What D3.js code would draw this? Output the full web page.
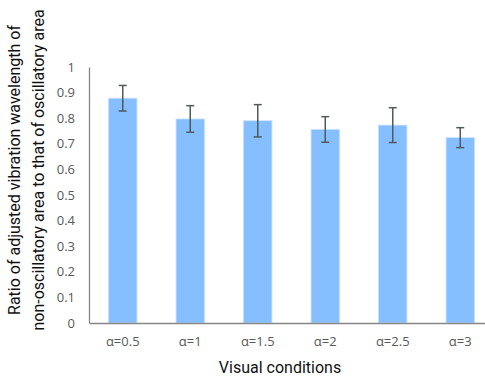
<!DOCTYPE html>
<html>
<head>
<meta charset="utf-8">
<script src="https://cdn.jsdelivr.net/npm/d3@7"></script>
<style>
body { margin: 0; background: #fff; }
</style>
</head>
<body>
<svg width="485" height="385"></svg>
<script>
const conditions = ["α=0.5", "α=1", "α=1.5", "α=2", "α=2.5", "α=3"];
const ratios = [0.878, 0.797, 0.790, 0.756, 0.773, 0.724];
const errors = [0.050, 0.052, 0.063, 0.050, 0.068, 0.039];
const yTicks = [0, 0.1, 0.2, 0.3, 0.4, 0.5, 0.6, 0.7, 0.8, 0.9, 1];

const svg = d3.select("svg");

const x = d3.scaleBand().domain(conditions).range([89, 494]).paddingInner(0.58).paddingOuter(0.29);
const y = d3.scaleLinear().domain([0, 1]).range([323, 67]);

// axes
const yAxis = svg.append("g")
    .attr("transform", "translate(89,0)")
    .call(d3.axisLeft(y).tickValues(yTicks).tickSize(0).tickPadding(14).tickFormat(d => d3.format("")(d)));
yAxis.select(".domain").attr("stroke", "#868686").attr("stroke-width", 1.3);
yAxis.selectAll("text")
    .style("font-family", "'Open Sans', sans-serif")
    .style("font-size", "13px")
    .attr("fill", "#595959");

// bars
svg.selectAll(".bar")
    .data(conditions)
    .join("rect")
    .attr("class", "bar")
    .attr("x", d => x(d))
    .attr("width", x.bandwidth())
    .attr("y", (d, i) => y(ratios[i]))
    .attr("height", (d, i) => y(0) - y(ratios[i]))
    .attr("fill", "#86bfff")
    .attr("stroke", "#c5e0ff")
    .attr("stroke-width", 0.8);

const xAxis = svg.append("g")
    .attr("transform", "translate(0,323)")
    .call(d3.axisBottom(x).tickSize(0).tickPadding(14));
xAxis.select(".domain").attr("stroke", "#868686").attr("stroke-width", 1.3);
xAxis.selectAll("text")
    .style("font-family", "'Open Sans', sans-serif")
    .style("font-size", "13px")
    .attr("fill", "#595959");

// error bars
const eb = svg.selectAll(".err")
    .data(conditions)
    .join("g")
    .attr("class", "err")
    .attr("stroke", "#4f5a5a")
    .attr("stroke-width", 1.5);
eb.append("line")
    .attr("x1", d => x(d) + x.bandwidth() / 2)
    .attr("x2", d => x(d) + x.bandwidth() / 2)
    .attr("y1", (d, i) => y(ratios[i] + errors[i]))
    .attr("y2", (d, i) => y(ratios[i] - errors[i]));
eb.selectAll(".cap")
    .data((d, i) => [ratios[i] + errors[i], ratios[i] - errors[i]].map(v => ({ c: d, v: v })))
    .join("line")
    .attr("class", "cap")
    .attr("x1", d => x(d.c) + x.bandwidth() / 2 - 4)
    .attr("x2", d => x(d.c) + x.bandwidth() / 2 + 4)
    .attr("y1", d => y(d.v))
    .attr("y2", d => y(d.v));

// titles
svg.append("text")
    .attr("x", 280)
    .attr("y", 373)
    .attr("text-anchor", "middle")
    .style("font-family", "Roboto, sans-serif")
    .style("font-size", "16px")
    .attr("fill", "#111")
    .text("Visual conditions");

const yt = svg.append("text")
    .attr("transform", "translate(20,170) rotate(-90)")
    .attr("text-anchor", "middle")
    .style("font-family", "Roboto, sans-serif")
    .style("font-size", "16px")
    .attr("fill", "#111");
yt.append("tspan").attr("x", 0).attr("y", 0).text("Ratio of adjusted vibration wavelength of");
yt.append("tspan").attr("x", 0).attr("y", 24).text("non-oscillatory area to that of oscillatory area");
</script>
</body>
</html>
